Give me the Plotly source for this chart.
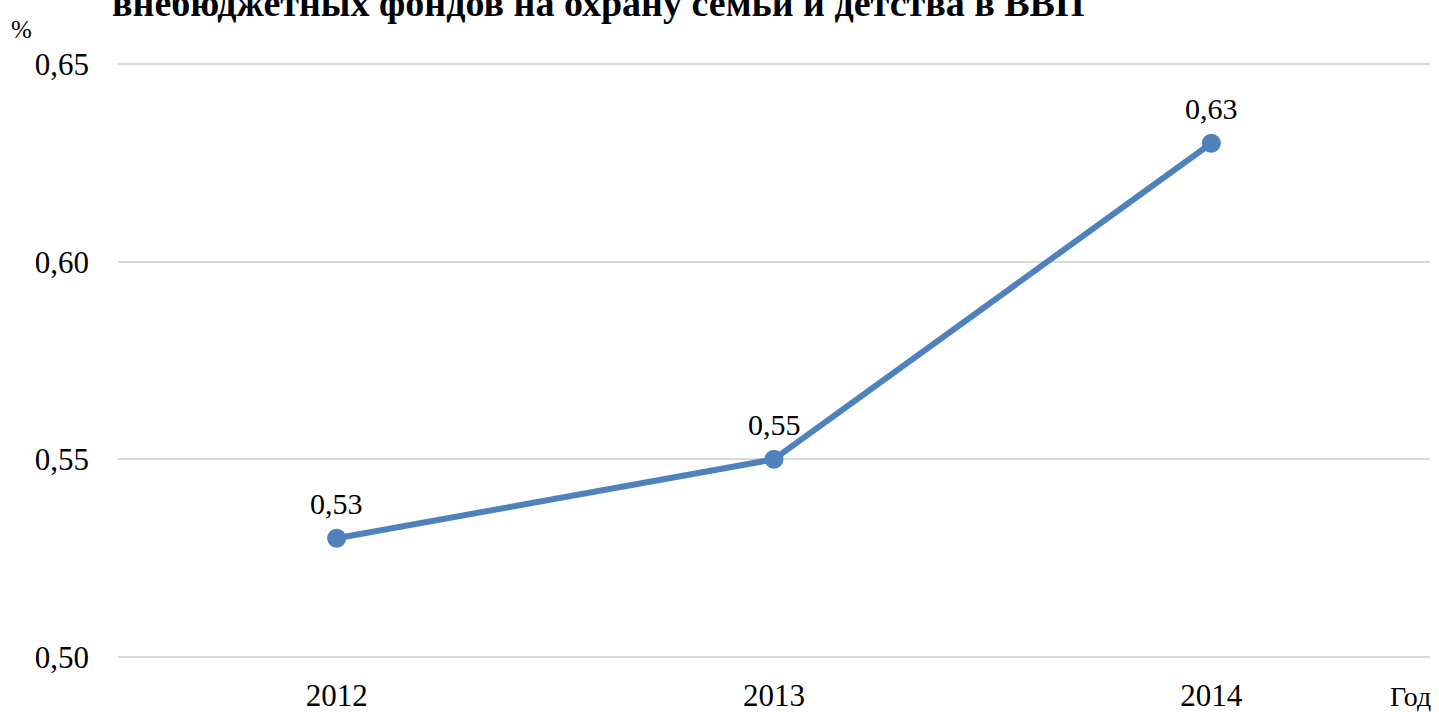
import plotly.graph_objects as go

# данные
years = ["2012", "2013", "2014"]
share_gdp = [0.53, 0.55, 0.63]
labels = ["0,53", "0,55", "0,63"]
y_ticks = [0.50, 0.55, 0.60, 0.65]
title_text = "внебюджетных фондов на охрану семьи и детства в ВВП"

serif = "Liberation Serif"

fig = go.Figure()
fig.add_trace(go.Scatter(
    x=years, y=share_gdp,
    mode="lines+markers",
    line=dict(color="#4F81BD", width=6),
    marker=dict(size=19, color="#4F81BD"),
    showlegend=False,
    cliponaxis=False,
))

# подписи данных над точками (x - индекс категории)
for i, (val, lab) in enumerate(zip(share_gdp, labels)):
    fig.add_annotation(x=i, y=val, xref="x", yref="y", text=lab, showarrow=False,
                       yshift=35, font=dict(family=serif, size=30, color="black"))

fig.update_layout(
    width=1439, height=712,
    margin=dict(l=118, r=9, t=63, b=54),
    plot_bgcolor="white", paper_bgcolor="white",
    separators=", ",
    font=dict(family=serif, size=30, color="black"),
    xaxis=dict(
        type="category", range=[-0.5, 2.5],
        showgrid=False, showline=False, zeroline=False,
        ticklabelstandoff=16, automargin=False,
        tickfont=dict(family=serif, size=31),
    ),
    yaxis=dict(
        range=[0.4997, 0.6503], tickvals=y_ticks, tickformat=".2f",
        showgrid=True, gridcolor="#D9D9D9", gridwidth=1.5,
        zeroline=False, showline=False,
        ticklabelstandoff=28, automargin=False,
        tickfont=dict(family=serif, size=31),
    ),
)

fig.add_annotation(text="<b>" + title_text + "</b>", xref="paper", yref="paper",
                   x=0.366, y=1.1008, xanchor="center", yanchor="middle",
                   showarrow=False, font=dict(family=serif, size=38))
fig.add_annotation(text="%", xref="paper", yref="paper", x=-0.0732, y=1.057,
                   xanchor="center", yanchor="middle", showarrow=False,
                   font=dict(family=serif, size=25))
fig.add_annotation(text="Год", xref="paper", yref="paper", x=0.9855, y=-0.0655,
                   xanchor="center", yanchor="middle", showarrow=False,
                   font=dict(family=serif, size=28))

fig.write_html("out.html", config={"displayModeBar": False},
               post_script="document.body.style.margin='0px';")
